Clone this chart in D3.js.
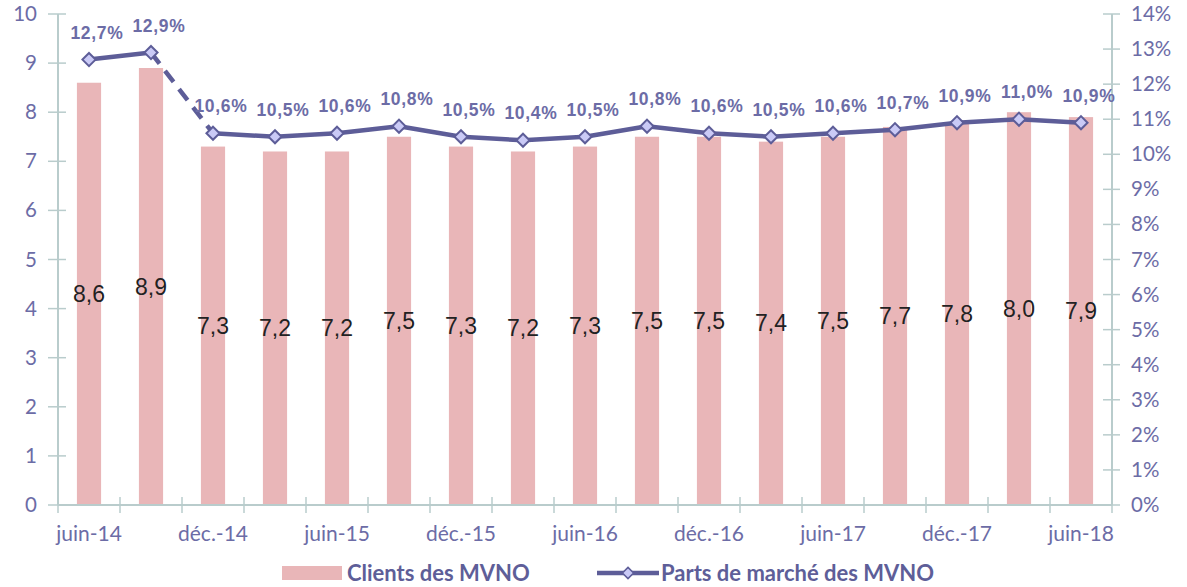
<!DOCTYPE html>
<html>
<head>
<meta charset="utf-8">
<script src="https://cdn.jsdelivr.net/npm/d3@7"></script>
<style>
  body { margin: 0; background: #fff; }
</style>
</head>
<body>
<div id="chart"></div>
<script>
const periods = ['juin-14', 'sept.-14', 'déc.-14', 'mars-15', 'juin-15', 'sept.-15', 'déc.-15', 'mars-16',
  'juin-16', 'sept.-16', 'déc.-16', 'mars-17', 'juin-17', 'sept.-17', 'déc.-17', 'mars-18', 'juin-18'];
const clients = [8.6, 8.9, 7.3, 7.2, 7.2, 7.5, 7.3, 7.2, 7.3, 7.5, 7.5, 7.4, 7.5, 7.7, 7.8, 8.0, 7.9];
const shares = [12.7, 12.9, 10.6, 10.5, 10.6, 10.8, 10.5, 10.4, 10.5, 10.8, 10.6, 10.5, 10.6, 10.7, 10.9, 11.0, 10.9];
const leftTicks = [0, 1, 2, 3, 4, 5, 6, 7, 8, 9, 10];
const rightTicks = [0, 1, 2, 3, 4, 5, 6, 7, 8, 9, 10, 11, 12, 13, 14];
const legendLabels = ['Clients des MVNO', 'Parts de marché des MVNO'];

const width = 1187;
const height = 587;
const plotL = 58, plotR = 1112, plotT = 14, plotB = 505;

const barColor = '#e9b6b8';
const lineColor = '#5d5d98';
const markerFill = '#cacaf6';
const axisColor = '#b9cccc';
const textColor = '#6c6ca6';

const svg = d3.select('#chart')
  .append('svg')
  .attr('width', width)
  .attr('height', height);

const x = d3.scaleBand()
  .domain(periods)
  .range([plotL, plotR])
  .paddingInner(0.61)
  .paddingOuter(0.305);

const yL = d3.scaleLinear().domain([0, 10]).range([plotB, plotT]);
const yR = d3.scaleLinear().domain([0, 14]).range([plotB, plotT]);
const step = x.step();
const cx = d => x(d) + x.bandwidth() / 2;

// bars
svg.append('g').selectAll('rect')
  .data(clients)
  .join('rect')
  .attr('x', (d, i) => x(periods[i]))
  .attr('y', d => yL(d))
  .attr('width', x.bandwidth())
  .attr('height', d => yL(0) - yL(d))
  .attr('fill', barColor);

// bar labels
svg.append('g').selectAll('text')
  .data(clients)
  .join('text')
  .attr('x', (d, i) => cx(periods[i]))
  .attr('y', d => (yL(d) + yL(0)) / 2 + 8)
  .attr('text-anchor', 'middle')
  .style('font-family', '"Liberation Sans", Arial, sans-serif')
  .style('font-size', '23px')
  .attr('fill', '#222')
  .text(d => d.toFixed(1).replace('.', ','));

// left axis
const axL = svg.append('g');
axL.append('line')
  .attr('x1', plotL).attr('x2', plotL)
  .attr('y1', yL(10)).attr('y2', plotB)
  .attr('stroke', axisColor).attr('stroke-width', 2);
axL.selectAll('line.tick')
  .data(leftTicks)
  .join('line')
  .attr('class', 'tick')
  .attr('x1', plotL - 10).attr('x2', plotL + 8)
  .attr('y1', d => yL(d)).attr('y2', d => yL(d))
  .attr('stroke', axisColor).attr('stroke-width', 1.5);
axL.selectAll('text')
  .data(leftTicks)
  .join('text')
  .attr('x', plotL - 21)
  .attr('y', d => yL(d) + 7)
  .attr('text-anchor', 'end')
  .style('font-family', 'Lato, sans-serif')
  .style('font-size', '20.5px')
  .attr('fill', textColor)
  .text(d => d);

// right axis
const axR = svg.append('g');
axR.append('line')
  .attr('x1', plotR).attr('x2', plotR)
  .attr('y1', yR(14)).attr('y2', plotB)
  .attr('stroke', axisColor).attr('stroke-width', 2);
axR.selectAll('line.tick')
  .data(rightTicks)
  .join('line')
  .attr('class', 'tick')
  .attr('x1', plotR - 9).attr('x2', plotR + 8)
  .attr('y1', d => yR(d)).attr('y2', d => yR(d))
  .attr('stroke', axisColor).attr('stroke-width', 1.5);
axR.selectAll('text')
  .data(rightTicks)
  .join('text')
  .attr('x', plotR + 19)
  .attr('y', d => yR(d) + 7)
  .style('font-family', 'Lato, sans-serif')
  .style('font-size', '20.5px')
  .attr('fill', textColor)
  .text(d => d + '%');

// x axis
const axX = svg.append('g');
axX.append('line')
  .attr('x1', plotL).attr('x2', plotR)
  .attr('y1', plotB).attr('y2', plotB)
  .attr('stroke', axisColor).attr('stroke-width', 2);
axX.selectAll('line.tick')
  .data(d3.range(periods.length + 1))
  .join('line')
  .attr('class', 'tick')
  .attr('x1', i => plotL + i * step).attr('x2', i => plotL + i * step)
  .attr('y1', plotB - 8).attr('y2', plotB + 8)
  .attr('stroke', axisColor).attr('stroke-width', 1.5);
axX.selectAll('text')
  .data(periods.filter((d, i) => i % 2 === 0))
  .join('text')
  .attr('x', d => cx(d))
  .attr('y', 541)
  .attr('text-anchor', 'middle')
  .style('font-family', 'Lato, sans-serif')
  .style('font-size', '21px')
  .attr('fill', textColor)
  .text(d => d);

// share line (first drop is dashed)
const pts = shares.map((v, i) => [cx(periods[i]), yR(v)]);
const line = d3.line();
svg.append('path')
  .attr('d', line(pts.slice(0, 2)))
  .attr('fill', 'none').attr('stroke', lineColor).attr('stroke-width', 4.5);
svg.append('path')
  .attr('d', line(pts.slice(1, 3)))
  .attr('fill', 'none').attr('stroke', lineColor).attr('stroke-width', 4.5)
  .attr('stroke-dasharray', '14,9');
svg.append('path')
  .attr('d', line(pts.slice(2)))
  .attr('fill', 'none').attr('stroke', lineColor).attr('stroke-width', 4.5)
  .attr('stroke-linejoin', 'round');

const diamond = d3.symbol().type(d3.symbolDiamond2).size(110);
svg.append('g').selectAll('path')
  .data(pts)
  .join('path')
  .attr('transform', d => `translate(${d[0]},${d[1]})`)
  .attr('d', diamond)
  .attr('fill', markerFill)
  .attr('stroke', lineColor)
  .attr('stroke-width', 2);

// share labels
svg.append('g').selectAll('text')
  .data(shares)
  .join('text')
  .attr('x', (d, i) => cx(periods[i]) + 8)
  .attr('y', d => yR(d) - 21)
  .attr('text-anchor', 'middle')
  .style('font-family', '"Liberation Sans", Arial, sans-serif')
  .style('font-weight', 'bold')
  .style('font-size', '17.5px')
  .style('letter-spacing', '0.7px')
  .attr('fill', textColor)
  .text(d => d.toFixed(1).replace('.', ',') + '%');

// legend
const lg = svg.append('g');
lg.append('rect')
  .attr('x', 282).attr('y', 566)
  .attr('width', 60).attr('height', 14)
  .attr('fill', barColor);
lg.append('text')
  .attr('x', 347).attr('y', 581)
  .style('font-family', 'Lato, sans-serif')
  .style('font-weight', 'bold')
  .style('font-size', '22px')
  .attr('fill', '#5e5e98')
  .text(legendLabels[0]);
lg.append('line')
  .attr('x1', 597).attr('x2', 659)
  .attr('y1', 573).attr('y2', 573)
  .attr('stroke', lineColor).attr('stroke-width', 4.5);
lg.append('path')
  .attr('transform', 'translate(628,573)')
  .attr('d', d3.symbol().type(d3.symbolDiamond2).size(80))
  .attr('fill', markerFill)
  .attr('stroke', lineColor)
  .attr('stroke-width', 1.5);
lg.append('text')
  .attr('x', 661).attr('y', 581)
  .style('font-family', 'Lato, sans-serif')
  .style('font-weight', 'bold')
  .style('font-size', '22px')
  .attr('fill', '#5e5e98')
  .text(legendLabels[1]);
</script>
</body>
</html>
